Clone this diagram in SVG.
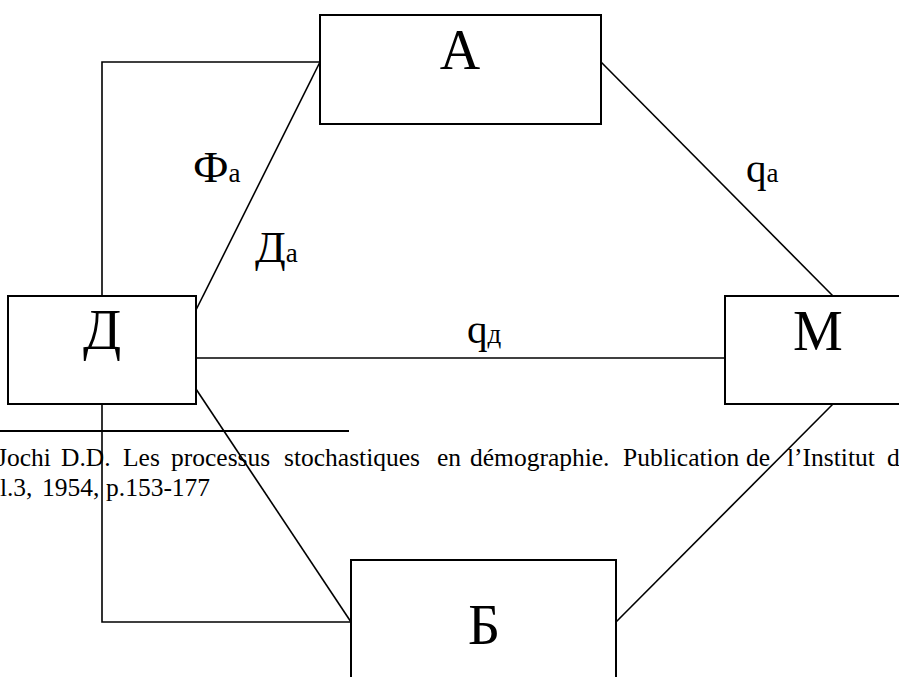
<svg xmlns="http://www.w3.org/2000/svg" width="899" height="677" viewBox="0 0 899 677">
<style>
.box{fill:#fff;stroke:#000;stroke-width:2}
.ln{fill:none;stroke:#000;stroke-width:1.6}
.big{font-family:"Liberation Serif","Times New Roman",serif;font-size:56px;text-anchor:middle;fill:#000}
.lab{font-family:"Liberation Serif","Times New Roman",serif;font-size:41px;fill:#000}
.cy{font-size:45px}
.sub{font-size:27px}
.fn{font-family:"Liberation Serif","Times New Roman",serif;font-size:25.5px;fill:#000}
</style>
<rect width="899" height="677" fill="#fff"/>
<g id="footnote">
<line x1="0" y1="431" x2="349" y2="431" stroke="#000" stroke-width="2"/>
<text class="fn" y="466"><tspan x="-3">Jochi</tspan><tspan x="61">D.D.</tspan><tspan x="123">Les</tspan><tspan x="171">processus</tspan><tspan x="284">stochastiques</tspan><tspan x="437">en</tspan><tspan x="470">démographie.</tspan><tspan x="623">Publication</tspan><tspan x="746">de</tspan><tspan x="787">l’Institut</tspan><tspan x="887">de</tspan></text>
<text class="fn" y="496"><tspan x="-28">Vol.3,</tspan><tspan x="42">1954,</tspan><tspan x="106">p.153-177</tspan></text>
</g>
<g id="connectors">
<polyline class="ln" points="102,296 102,62 320,62"/>
<line class="ln" x1="320" y1="62" x2="196" y2="310"/>
<line class="ln" x1="601" y1="62" x2="833" y2="296"/>
<line class="ln" x1="196" y1="358" x2="725" y2="358" stroke-width="2"/>
<line class="ln" x1="196" y1="389" x2="351" y2="622"/>
<polyline class="ln" points="102,404 102,622 351,622"/>
<line class="ln" x1="833" y1="404" x2="616" y2="622"/>
</g>
<g id="labels">
<text class="lab" x="193" y="182"><tspan class="cy">Ф</tspan><tspan class="sub">a</tspan></text>
<text class="lab" x="255" y="262"><tspan class="cy">Д</tspan><tspan class="sub">a</tspan></text>
<text class="lab" x="746" y="182">q<tspan class="sub">a</tspan></text>
<text class="lab" x="467" y="343">q<tspan class="sub">д</tspan></text>
</g>
<g id="node-A"><rect class="box" x="320" y="15" width="281" height="109"/><text class="big" x="460" y="69">А</text></g>
<g id="node-D"><rect class="box" x="8" y="296" width="188" height="108"/><text class="big" x="102" y="349">Д</text></g>
<g id="node-M"><rect class="box" x="725" y="296" width="200" height="108"/><text class="big" x="818" y="350">М</text></g>
<g id="node-B"><rect class="box" x="351" y="560" width="265" height="150"/><text class="big" x="484" y="644">Б</text></g>
</svg>
